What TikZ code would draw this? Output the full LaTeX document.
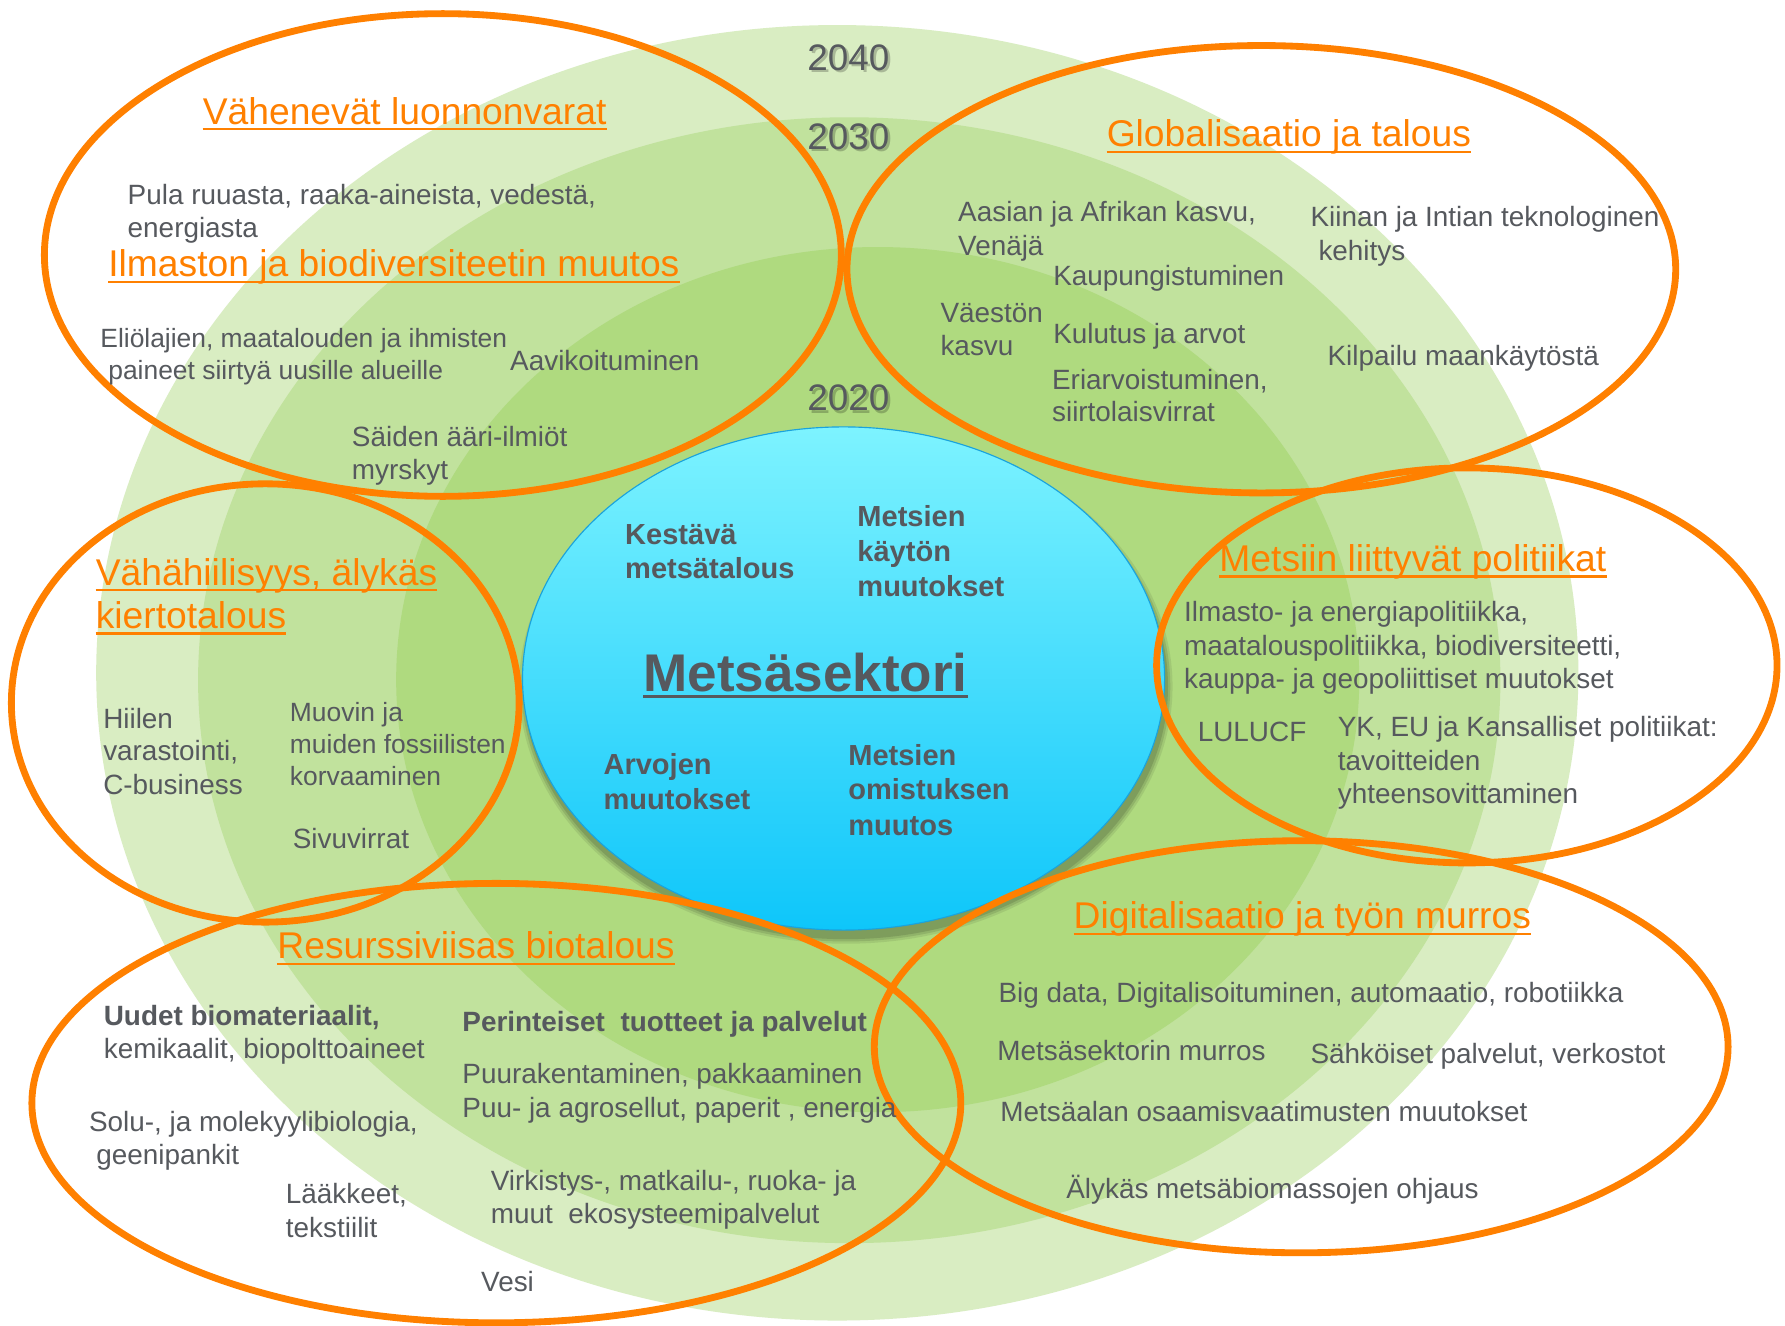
\documentclass[tikz,border=0pt]{standalone}
\usepackage{fontspec}
\setmainfont{Liberation Sans}
\definecolor{gA}{HTML}{D9EDC2}
\definecolor{gB}{HTML}{C1E29D}
\definecolor{gC}{HTML}{AFDA7F}
\definecolor{orng}{HTML}{FF8000}
\definecolor{tgray}{HTML}{56595E}
\definecolor{bltop}{HTML}{7DF3FF}
\definecolor{blbot}{HTML}{0EC6FA}
\definecolor{blborder}{HTML}{1AA3DC}
\begin{document}
\begin{tikzpicture}[x=1pt,y=-1pt,
  txt/.style={anchor=base west, inner sep=0pt, text=tgray, font=\fontsize{24.5}{29.5}\selectfont},
  stxt/.style={txt, font=\fontsize{23.2}{28}\selectfont},
  btxt/.style={txt, font=\fontsize{24.5}{29.5}\selectfont\bfseries},
  ctxt/.style={txt, font=\fontsize{25.5}{30.6}\selectfont\bfseries},
  head/.style={anchor=base west, inner sep=0pt, text=orng, font=\fontsize{32.7}{39}\selectfont},
  uline/.style={draw=orng, line width=2pt},
  ring/.style={draw=orng, line width=6pt},
  year/.style={anchor=base, inner sep=0pt, text=tgray, font=\fontsize{32.4}{39}\selectfont},
  yearsh/.style={year, text=black, opacity=0.22}
]
\useasboundingbox (0,0) rectangle (1568,1164);
\fill[white] (0,0) rectangle (1568,1164);
% green period ellipses
\fill[gA] (735.5,591) ellipse [x radius=651pt, y radius=569pt];
\fill[gB] (746,597.5) ellipse [x radius=572pt, y radius=494.5pt];
\fill[gC] (771,597) ellipse [x radius=423pt, y radius=380pt];
% year labels
\foreach \n/\yy/\lab in {a/61.5/2040, b/131/2030, c/361/2020}{
  \node[yearsh] (ys\n) at (747.5,\yy+2.5) {\lab};
  \node[year] (y\n) at (745.2,\yy) {\lab};
}
% central ellipse with shadow
\foreach \s/\o in {5/0.08,3/0.10,1/0.12}{
  \fill[black, opacity=\o] (743,603) ellipse [x radius=282pt+\s pt, y radius=221pt+\s pt];
}
\shade[top color=bltop, bottom color=blbot, draw=blborder, line width=1pt] (741,596) ellipse [x radius=282pt, y radius=221pt];
% orange theme ellipses
\draw[ring] (389,224) ellipse [x radius=350pt, y radius=212pt];
\draw[ring] (1108,236.5) ellipse [x radius=364pt, y radius=196.5pt];
\draw[ring] (233,617.5) ellipse [x radius=223pt, y radius=192.5pt];
\draw[ring] (1288.5,584.5) ellipse [x radius=272.5pt, y radius=173.5pt];
\draw[ring] (436,969) ellipse [x radius=408pt, y radius=193pt];
\draw[ring] (1143,919.5) ellipse [x radius=375pt, y radius=181pt];
% headings
\node[head] (h1) at (178,109) {Vähenevät luonnonvarat};
\node[head] (h2) at (95,243) {Ilmaston ja biodiversiteetin muutos};
\node[head] (h3) at (972,129) {Globalisaatio ja talous};
\node[head] (h4a) at (84,514) {Vähähiilisyys, älykäs};
\node[head] (h4b) at (84,552) {kiertotalous};
\node[head] (h5) at (1071,502) {Metsiin liittyvät politiikat};
\node[head] (h6) at (243.5,842) {Resurssiviisas biotalous};
\node[head] (h7) at (943,816) {Digitalisaatio ja työn murros};
\foreach \h in {h1,h2,h3,h4a,h4b,h5,h6,h7}{
  \draw[uline] ([yshift=-4.5pt]\h.base west) -- ([yshift=-4.5pt]\h.base east);
}
% top-left texts
\node[txt] (p1) at (112,179.5) {Pula ruuasta, raaka-aineista, vedestä,};
\node[txt] (p2) at (112,208.5) {energiasta};
\node[stxt] (e1) at (88,305) {Eliölajien, maatalouden ja ihmisten};
\node[stxt] (e2) at (95,333) {paineet siirtyä uusille alueille};
\node[txt] (av) at (448,325.5) {Aavikoituminen};
\node[txt] (s1) at (309,392.5) {Säiden ääri-ilmiöt};
\node[txt] (s2) at (309,421.5) {myrskyt};
% top-right texts
\node[txt] (a1) at (841.5,195) {Aasian ja Afrikan kasvu,};
\node[txt] (a2) at (841.5,224) {Venäjä};
\node[txt] (k1) at (1151,199) {Kiinan ja Intian teknologinen};
\node[txt] (k2) at (1158,228.5) {kehitys};
\node[txt] (ka) at (925,250.5) {Kaupungistuminen};
\node[txt] (v1) at (826,283) {Väestön};
\node[txt] (v2) at (826,312) {kasvu};
\node[txt] (ku) at (925,302) {Kulutus ja arvot};
\node[txt] (er1) at (924,342) {Eriarvoistuminen,};
\node[txt] (er2) at (924,370.5) {siirtolaisvirrat};
\node[txt] (ki) at (1166,321) {Kilpailu maankäytöstä};
% right-middle texts
\node[txt] (i1) at (1040,546) {Ilmasto- ja energiapolitiikka,};
\node[txt] (i2) at (1040,575.5) {maatalouspolitiikka, biodiversiteetti,};
\node[txt] (i3) at (1040,605) {kauppa- ja geopoliittiset muutokset};
\node[txt] (lu) at (1052,651.5) {LULUCF};
\node[txt] (yk1) at (1175,647) {YK, EU ja Kansalliset politiikat:};
\node[txt] (yk2) at (1175,676.5) {tavoitteiden};
\node[txt] (yk3) at (1175,706) {yhteensovittaminen};
% left-middle texts
\node[txt] (hi1) at (90.5,640) {Hiilen};
\node[txt] (hi2) at (90.5,668) {varastointi,};
\node[txt] (hi3) at (90.5,698) {C-business};
\node[stxt] (mu1) at (254.5,634) {Muovin ja};
\node[stxt] (mu2) at (254.5,662) {muiden fossiilisten};
\node[stxt] (mu3) at (254.5,690) {korvaaminen};
\node[txt] (si) at (257,745) {Sivuvirrat};
% central texts
\node[ctxt] (c1a) at (549,478) {Kestävä};
\node[ctxt] (c1b) at (549,508.5) {metsätalous};
\node[ctxt] (c2a) at (753,462.5) {Metsien};
\node[ctxt] (c2b) at (753,493.5) {käytön};
\node[ctxt] (c2c) at (753,524) {muutokset};
\node[ctxt] (c3a) at (530,680) {Arvojen};
\node[ctxt] (c3b) at (530,711) {muutokset};
\node[ctxt] (c4a) at (745,672) {Metsien};
\node[ctxt] (c4b) at (745,702.5) {omistuksen};
\node[ctxt] (c4c) at (745,733.5) {muutos};
\node[txt, font=\fontsize{46.6}{56}\selectfont\bfseries] (ms) at (565,607) {Metsäsektori};
\draw[draw=tgray, line width=2.5pt] ([yshift=-5pt]ms.base west) -- ([yshift=-5pt]ms.base east);
% bottom-left texts
\node[btxt] (u1) at (91,901) {Uudet biomateriaalit,};
\node[txt] (u2) at (91,930) {kemikaalit, biopolttoaineet};
\node[btxt] (pe) at (406,906) {Perinteiset\ \ tuotteet ja palvelut};
\node[txt] (pu1) at (406,952) {Puurakentaminen, pakkaaminen};
\node[txt] (pu2) at (406,981.5) {Puu- ja agrosellut, paperit , energia};
\node[txt] (so1) at (78,993.5) {Solu-, ja molekyylibiologia,};
\node[txt] (so2) at (84.5,1022.5) {geenipankit};
\node[txt] (la1) at (251,1057.5) {Lääkkeet,};
\node[txt] (la2) at (251,1087) {tekstiilit};
\node[txt] (vi1) at (431,1045.5) {Virkistys-, matkailu-, ruoka- ja};
\node[txt] (vi2) at (431,1075) {muut\ \ ekosysteemipalvelut};
\node[txt] (ve) at (422.5,1134.5) {Vesi};
% bottom-right texts
\node[txt] (bd) at (877,881) {Big data, Digitalisoituminen, automaatio, robotiikka};
\node[txt] (mm) at (876,931.5) {Metsäsektorin murros};
\node[txt] (sp) at (1151,934.5) {Sähköiset palvelut, verkostot};
\node[txt] (oa) at (878.5,985) {Metsäalan osaamisvaatimusten muutokset};
\node[txt] (al) at (936.5,1052.5) {Älykäs metsäbiomassojen ohjaus};
\end{tikzpicture}
\end{document}
